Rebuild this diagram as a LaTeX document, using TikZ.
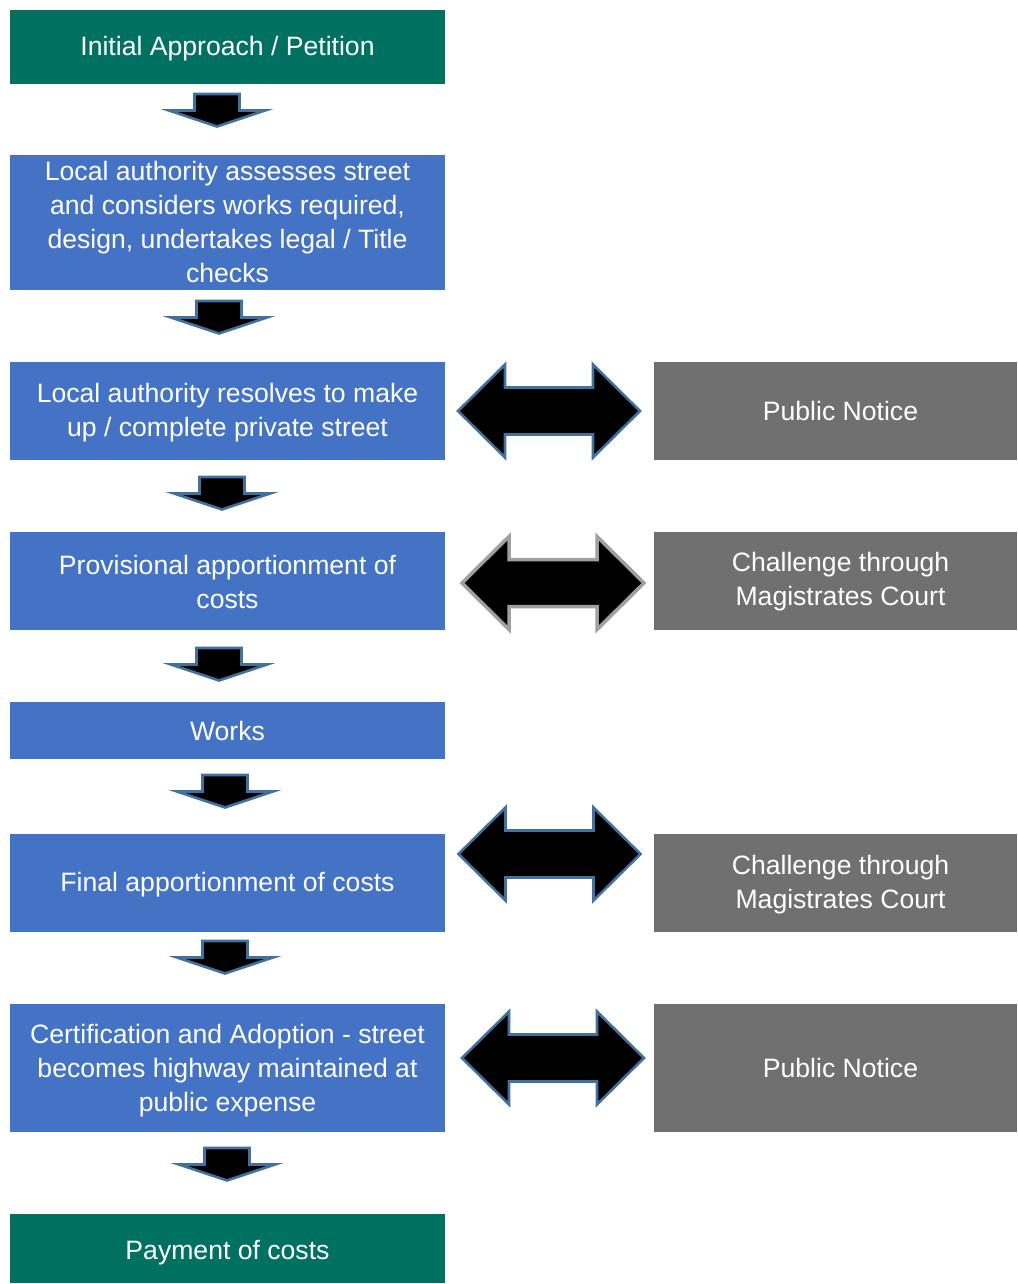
\documentclass[tikz,border=0pt]{standalone}
\usepackage{fontspec}
\setmainfont{Liberation Sans}
\definecolor{boxgreen}{RGB}{0,112,96}
\definecolor{boxblue}{RGB}{68,114,196}
\definecolor{boxgray}{RGB}{112,112,112}
\definecolor{arrowblue}{RGB}{65,113,156}
\definecolor{arrowgray}{RGB}{160,160,160}
\tikzset{
  flowbox/.style={rectangle, inner sep=0pt, minimum width=435pt},
  greenbox/.style={flowbox, fill=boxgreen},
  bluebox/.style={flowbox, fill=boxblue},
  graybox/.style={flowbox, fill=boxgray, minimum width=363pt},
  boxtext/.style={inner sep=0pt, text=white, align=center,
    font=\fontsize{26.6}{34}\selectfont},
  blockarrow/.style={fill=black, draw=arrowblue, line width=2.6pt, line join=miter},
}
\newcommand{\downarrowshape}[2]{% center x, top y
  \draw[blockarrow] (#1-22.5,#2) -- (#1+22.5,#2) -- (#1+22.5,#2+16.5) -- (#1+48,#2+16.5)
    -- (#1,#2+32.5) -- (#1-48,#2+16.5) -- (#1-22.5,#2+16.5) -- cycle;}
\newcommand{\dblarrowshape}[3]{% center x, center y, style
  \draw[blockarrow,#3] (#1-91,#2) -- (#1-44,#2-46.5) -- (#1-44,#2-23.5) -- (#1+44,#2-23.5)
    -- (#1+44,#2-46.5) -- (#1+91,#2) -- (#1+44,#2+46.5) -- (#1+44,#2+23.5)
    -- (#1-44,#2+23.5) -- (#1-44,#2+46.5) -- cycle;}
\begin{document}
\begin{tikzpicture}[x=1pt,y=-1pt]
\useasboundingbox (0,0) rectangle (1017,1284);
% left column
\node[greenbox, minimum height=74pt] (b1) at (227.5,47) {};
\node[bluebox, minimum height=135pt] (b2) at (227.5,222.5) {};
\node[bluebox, minimum height=98pt] (b3) at (227.5,411) {};
\node[bluebox, minimum height=98pt] (b4) at (227.5,581) {};
\node[bluebox, minimum height=57pt] (b5) at (227.5,730.5) {};
\node[bluebox, minimum height=98pt] (b6) at (227.5,883) {};
\node[bluebox, minimum height=128pt] (b7) at (227.5,1068) {};
\node[greenbox, minimum height=69pt] (b8) at (227.5,1248.5) {};
\node[boxtext] (t1) at ([yshift=-1.5pt]b1.center) {Initial Approach / Petition};
\node[boxtext] (t2) at ([yshift=1pt]b2.center) {Local authority assesses street\\and considers works required,\\design, undertakes legal / Title\\checks};
\node[boxtext] (t3) at ([yshift=-1.5pt]b3.center) {Local authority resolves to make\\up / complete private street};
\node[boxtext] (t4) at ([yshift=-1pt]b4.center) {Provisional apportionment of\\costs};
\node[boxtext] (t5) at ([yshift=0pt]b5.center) {Works};
\node[boxtext] (t6) at ([yshift=-2pt]b6.center) {Final apportionment of costs};
\node[boxtext] (t7) at ([yshift=-2.5pt]b7.center) {Certification and Adoption - street\\becomes highway maintained at\\public expense};
\node[boxtext] (t8) at ([yshift=-4pt]b8.center) {Payment of costs};
% right column
\node[graybox, minimum height=98pt] (r1) at (835.5,411) {};
\node[graybox, minimum height=98pt] (r2) at (835.5,581) {};
\node[graybox, minimum height=98pt] (r3) at (835.5,883) {};
\node[graybox, minimum height=128pt] (r4) at (835.5,1068) {};
\node[boxtext] (s1) at ([xshift=5pt,yshift=0pt]r1.center) {Public Notice};
\node[boxtext] (s2) at ([xshift=5pt,yshift=-1pt]r2.center) {Challenge through\\Magistrates Court};
\node[boxtext] (s3) at ([xshift=5pt,yshift=-1.5pt]r3.center) {Challenge through\\Magistrates Court};
\node[boxtext] (s4) at ([xshift=5pt,yshift=0pt]r4.center) {Public Notice};
% down arrows
\downarrowshape{217}{94}
\downarrowshape{219}{301}
\downarrowshape{222}{477}
\downarrowshape{219}{648}
\downarrowshape{225}{775}
\downarrowshape{225}{941}
\downarrowshape{227}{1148}
% double arrows
\dblarrowshape{549}{411}{}
\dblarrowshape{553}{583}{draw=arrowgray,line width=3.5pt}
\dblarrowshape{549.5}{854}{}
\dblarrowshape{553}{1058}{}
\end{tikzpicture}
\end{document}
